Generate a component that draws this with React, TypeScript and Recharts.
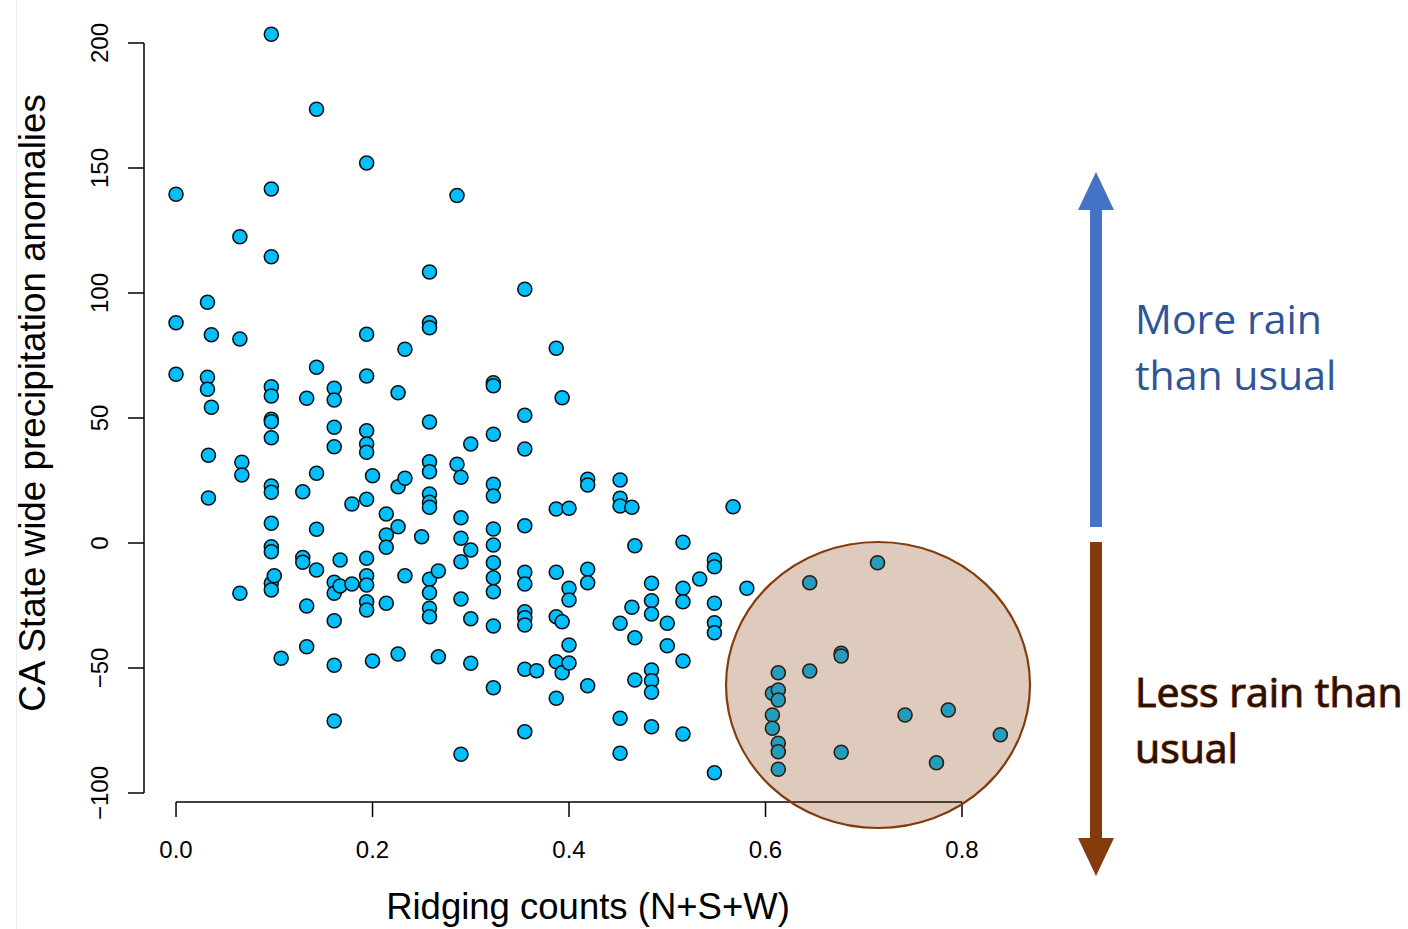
import { ScatterChart, Scatter, XAxis, YAxis, ReferenceLine, ReferenceDot } from 'recharts'

// ridging count fraction for each column of points, with the anomalies seen at that x
const ridgingCounts = [
  0, 0.032, 0.033, 0.036, 0.065, 0.067, 0.097, 0.1, 0.107, 0.129, 0.133, 0.143, 0.161, 0.167, 0.179, 0.194, 0.2,
  0.214, 0.226, 0.233, 0.25, 0.258, 0.267, 0.286, 0.29, 0.3, 0.323, 0.355, 0.367, 0.387, 0.393, 0.4, 0.419, 0.452,
  0.464, 0.467, 0.484, 0.5, 0.516, 0.533, 0.548, 0.567, 0.581, 0.607, 0.613, 0.645, 0.677, 0.714, 0.742, 0.774,
  0.786, 0.839,
]

const precipAnomalies = [
  [139.5, 88.1, 67.5],
  [96.3, 66.3, 61.5],
  [35.1, 18],
  [83.3, 54.3],
  [122.5, 81.6, -20.1],
  [32.3, 27.2],
  [203.5, 141.6, 114.5, 62.5, 58.8, 49.5, 48.5, 42.1, 22.8, 20.3, 7.9, -1.5, -3.5, -16.1, -18.8],
  [-13.1],
  [-46.1],
  [20.5, -5.8, -7.7],
  [57.9, -25.2, -41.5],
  [173.5, 70.3, 27.9, 5.5, -10.8],
  [61.9, 57.2, 46.3, 38.5, -15.7, -20.1, -31.1, -48.9, -71.2],
  [-6.8, -17.2],
  [15.6, -16.4],
  [152, 83.5, 66.8, 44.9, 39.6, 36.3, 17.5, -6.1, -13.1, -16.8, -23.5, -26.8],
  [26.9, -47.2],
  [11.6, 3.2, -1.7, -24.1],
  [60.1, 22.5, 6.5, -44.4],
  [77.5, 25.9, -13.1],
  [2.5],
  [108.4, 88.1, 86.1, 48.4, 32.5, 28.5, 19.6, 16.3, 14.3, -14.5, -19.9, -26.1, -29.5],
  [-11.2, -45.5],
  [139, 31.5],
  [26.3, 10.1, 1.9, -7.5, -22.4, -84.5],
  [39.6, -2.8, -30.3, -48.1],
  [64.1, 62.9, 43.5, 23.5, 18.8, 5.6, -0.8, -7.9, -13.9, -19.5, -33.2, -57.9],
  [101.5, 51.1, 37.6, 6.9, -11.7, -16.4, -27.5, -29.9, -32.8, -50.5, -75.5],
  [-51.1],
  [77.9, 13.6, -11.7, -29.5, -47.5, -62.1],
  [58.1, -31.5, -51.9],
  [13.9, -18.1, -22.8, -40.8, -48],
  [25.5, 23.2, -10.5, -15.9, -57.1],
  [25.2, 17.9, 14.8, -32.1, -70.1, -84.1],
  [14.3, -25.7],
  [-1.1, -37.9, -54.8],
  [-16.1, -23.1, -28.4, -50.8, -55.1, -59.7, -73.5],
  [-32.1, -41.1],
  [0.3, -18.1, -23.5, -47.2, -76.4],
  [-14.4],
  [-6.8, -9.5, -24.1, -31.9, -35.9, -91.9],
  [14.5],
  [-18.1],
  [-60.1, -68.8, -74.1],
  [-51.9, -58.8, -62.8, -80.1, -83.5, -90.5],
  [-15.9, -51.2],
  [-44.1, -45.2, -83.7],
  [-7.9],
  [-68.8],
  [-87.9],
  [-66.8],
  [-76.7],
]

const xTicks = [0, 0.2, 0.4, 0.6, 0.8]
const yTicks = [-100, -50, 0, 50, 100, 150, 200]

// highlighted dry cluster
const circleCenter = { x: 0.7145, y: -56.8 }

const points = ridgingCounts.flatMap((x, i) => precipAnomalies[i].map((y) => ({ x, y })))

const FONT = '"Liberation Sans", Arial, Helvetica, sans-serif'

function YTick(props: any) {
  const { x, y, payload } = props
  const v = payload.value
  const label = v < 0 ? `\u2212${Math.abs(v)}` : `${v}`
  return (
    <text
      x={x}
      y={y}
      transform={`rotate(-90 ${x} ${y})`}
      textAnchor="middle"
      fontSize={24}
      fontFamily={FONT}
      fill="#000"
    >
      {label}
    </text>
  )
}

function Dot(props: any) {
  return <circle cx={props.cx} cy={props.cy} r={7} fill="#00BFFF" stroke="#111" strokeWidth={1.6} />
}

function Circle(props: any) {
  return (
    <ellipse
      cx={props.cx}
      cy={props.cy}
      rx={152}
      ry={143}
      fill="#843C0C"
      fillOpacity={0.265}
      stroke="#843C0C"
      strokeWidth={2.2}
    />
  )
}

export default function App() {
  return (
    <div style={{ position: 'absolute', left: 0, top: 0, width: 1408, height: 929, background: '#fff' }}>
      <ScatterChart width={1408} height={929} margin={{ top: 13, right: 372.3, bottom: 47, left: 44 }}>
        <XAxis
          type="number"
          dataKey="x"
          domain={[-0.0326, 0.875]}
          ticks={xTicks}
          tickFormatter={(v: number) => v.toFixed(1)}
          axisLine={false}
          tickLine={{ stroke: '#000', strokeWidth: 1.5 }}
          tickSize={15}
          tickMargin={24}
          height={80}
          tick={{ fontSize: 24, fill: '#000', fontFamily: FONT }}
          allowDataOverflow
        />
        <YAxis
          type="number"
          dataKey="y"
          domain={[-103.6, 212]}
          ticks={yTicks}
          axisLine={false}
          tickLine={{ stroke: '#000', strokeWidth: 1.5 }}
          tickSize={16}
          tickMargin={20}
          width={100}
          tick={<YTick />}
          allowDataOverflow
        />
        <ReferenceLine
          segment={[{ x: 0, y: -103.6 }, { x: 0.8, y: -103.6 }]}
          stroke="#000"
          strokeWidth={1.5}
          ifOverflow="visible"
        />
        <ReferenceLine
          segment={[{ x: -0.0326, y: -100 }, { x: -0.0326, y: 200 }]}
          stroke="#000"
          strokeWidth={1.5}
          ifOverflow="visible"
        />
        <Scatter data={points} shape={<Dot />} isAnimationActive={false} />
        <ReferenceDot x={circleCenter.x} y={circleCenter.y} r={1} shape={<Circle />} ifOverflow="visible" />
      </ScatterChart>

      <svg
        width={1408}
        height={929}
        style={{ position: 'absolute', left: 0, top: 0, pointerEvents: 'none' }}
      >
        <line x1={16.5} y1={0} x2={16.5} y2={929} stroke="#ececec" strokeWidth={1} />
        <text
          x={45}
          y={403}
          transform="rotate(-90 45 403)"
          textAnchor="middle"
          fontSize={36.8}
          fontFamily={FONT}
          fill="#000"
        >
          CA State wide precipitation anomalies
        </text>
        <text x={588} y={919} textAnchor="middle" fontSize={36.5} fontFamily={FONT} fill="#000">
          Ridging counts (N+S+W)
        </text>

        <rect x={1090} y={205} width={12} height={322} fill="#4472C4" />
        <polygon points="1096,172 1078,210 1114,210" fill="#4472C4" />
        <rect x={1090} y={542} width={12} height={300} fill="#843C0C" />
        <polygon points="1078,838 1114,838 1096,876" fill="#843C0C" />

        <g fontFamily='"Open Sans", "Noto Sans", sans-serif' fontSize={41}>
          <text x={1135} y={334} fill="#2F5597">More rain</text>
          <text x={1135} y={390} fill="#2F5597">than usual</text>
          <text x={1135} y={707} fill="#2a1000" stroke="#843C0C" strokeWidth={1.2} paintOrder="stroke">
            Less rain than
          </text>
          <text x={1135} y={763} fill="#2a1000" stroke="#843C0C" strokeWidth={1.2} paintOrder="stroke">
            usual
          </text>
        </g>
      </svg>
    </div>
  )
}
